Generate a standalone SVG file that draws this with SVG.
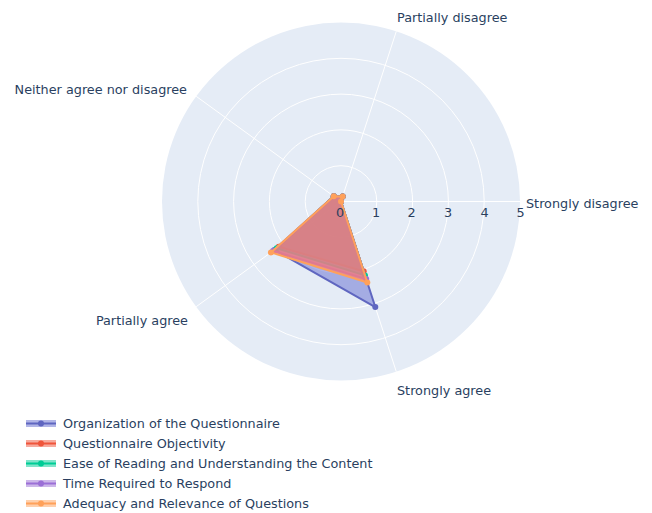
<svg xmlns="http://www.w3.org/2000/svg" width="652" height="513" viewBox="0 0 652 513">
<style>
text{font-family:"DejaVu Sans",Verdana,"Liberation Sans",sans-serif;font-size:12.8px;fill:#2a3f5f}
.grid{fill:none;stroke:#fff;stroke-width:1}
.tr{stroke-width:2;stroke-linejoin:round;fill-opacity:0.5}
.mid{dominant-baseline:central}
</style>
<rect width="652" height="513" fill="#fff"/>
<g id="polar-bg">
<circle cx="341" cy="201.5" r="179" fill="#E5ECF6"/>
<g class="grid">
<circle cx="341" cy="201.5" r="35.8"/>
<circle cx="341" cy="201.5" r="71.6"/>
<circle cx="341" cy="201.5" r="107.4"/>
<circle cx="341" cy="201.5" r="143.2"/>
<line x1="341" y1="201.5" x2="520" y2="201.5"/>
<line x1="341" y1="201.5" x2="396.3" y2="31.3"/>
<line x1="341" y1="201.5" x2="196.2" y2="96.3"/>
<line x1="341" y1="201.5" x2="196.2" y2="306.7"/>
<line x1="341" y1="201.5" x2="396.3" y2="371.7"/>
</g>
</g>
<g id="angular-labels">
<text class="mid" x="526" y="203">Strongly disagree</text>
<text class="mid" x="397" y="17">Partially disagree</text>
<text class="mid" x="187" y="89" text-anchor="end">Neither agree nor disagree</text>
<text class="mid" x="188" y="320" text-anchor="end">Partially agree</text>
<text class="mid" x="397" y="390">Strongly agree</text>
</g>
<g id="traces">
<g id="t-organization" fill="#636bd0" stroke="#5f66c0">
<polygon class="tr" points="341,201.5 342.66,196.39 333.76,196.24 274.4,249.9 375.29,307.05"/>
<g stroke="none" fill="#5f66c0"><circle cx="341" cy="201.5" r="3"/><circle cx="342.66" cy="196.39" r="3"/><circle cx="333.76" cy="196.24" r="3"/><circle cx="274.4" cy="249.9" r="3"/><circle cx="375.29" cy="307.05" r="3"/></g>
</g>
<g id="t-objectivity" fill="#EF553B" stroke="#EF553B">
<polygon class="tr" points="341,201.5 342.66,196.39 333.76,196.24 278.73,246.74 363.68,271.3"/>
<g stroke="none"><circle cx="341" cy="201.5" r="3"/><circle cx="342.66" cy="196.39" r="3"/><circle cx="333.76" cy="196.24" r="3"/><circle cx="278.73" cy="246.74" r="3"/><circle cx="363.68" cy="271.3" r="3"/></g>
</g>
<g id="t-ease" fill="#00cc96" stroke="#00cc96">
<polygon class="tr" points="341,201.5 342.66,196.39 333.76,196.24 276.69,248.23 365,275.4"/>
<g stroke="none"><circle cx="341" cy="201.5" r="3"/><circle cx="342.66" cy="196.39" r="3"/><circle cx="333.76" cy="196.24" r="3"/><circle cx="276.69" cy="248.23" r="3"/><circle cx="365" cy="275.4" r="3"/></g>
</g>
<g id="t-time" fill="#9b6fd6" stroke="#9b6fd6">
<polygon class="tr" points="341,201.5 342.66,196.39 333.76,196.24 272.96,250.93 366.2,279.1"/>
<g stroke="none"><circle cx="341" cy="201.5" r="3"/><circle cx="342.66" cy="196.39" r="3"/><circle cx="333.76" cy="196.24" r="3"/><circle cx="272.96" cy="250.93" r="3"/><circle cx="366.2" cy="279.1" r="3"/></g>
</g>
<g id="t-adequacy" fill="#FFA15A" stroke="#FFA15A">
<polygon class="tr" style="fill:#FC7E74;fill-opacity:0.7" points="341,201.5 342.66,196.39 333.76,196.24 270.94,252.4 367.33,282.53"/>
<g stroke="none"><circle cx="341" cy="201.5" r="3"/><circle cx="342.66" cy="196.39" r="3"/><circle cx="333.76" cy="196.24" r="3"/><circle cx="270.94" cy="252.4" r="3"/><circle cx="367.33" cy="282.53" r="3"/></g>
</g>
</g>
<g id="radial-ticks" text-anchor="middle">
<text x="340" y="217">0</text>
<text x="376" y="217">1</text>
<text x="411.5" y="217">2</text>
<text x="448" y="217">3</text>
<text x="484.5" y="217">4</text>
<text x="520.5" y="217">5</text>
</g>
<g id="legend">
<g id="lg-organization">
<rect x="26" y="420" width="30" height="7" fill="#636bd0" fill-opacity="0.5"/>
<line x1="26" y1="423.5" x2="56" y2="423.5" stroke="#5f66c0" stroke-width="2"/>
<circle cx="41" cy="423.5" r="3" fill="#5f66c0"/>
<text class="mid" x="63" y="423">Organization of the Questionnaire</text>
</g>
<g id="lg-objectivity">
<rect x="26" y="440" width="30" height="7" fill="#EF553B" fill-opacity="0.5"/>
<line x1="26" y1="443.5" x2="56" y2="443.5" stroke="#EF553B" stroke-width="2"/>
<circle cx="41" cy="443.5" r="3" fill="#EF553B"/>
<text class="mid" x="63" y="443">Questionnaire Objectivity</text>
</g>
<g id="lg-ease">
<rect x="26" y="460" width="30" height="7" fill="#00cc96" fill-opacity="0.5"/>
<line x1="26" y1="463.5" x2="56" y2="463.5" stroke="#00cc96" stroke-width="2"/>
<circle cx="41" cy="463.5" r="3" fill="#00cc96"/>
<text class="mid" x="63" y="463">Ease of Reading and Understanding the Content</text>
</g>
<g id="lg-time">
<rect x="26" y="480" width="30" height="7" fill="#9b6fd6" fill-opacity="0.5"/>
<line x1="26" y1="483.5" x2="56" y2="483.5" stroke="#9b6fd6" stroke-width="2"/>
<circle cx="41" cy="483.5" r="3" fill="#9b6fd6"/>
<text class="mid" x="63" y="483">Time Required to Respond</text>
</g>
<g id="lg-adequacy">
<rect x="26" y="500" width="30" height="7" fill="#FFA15A" fill-opacity="0.5"/>
<line x1="26" y1="503.5" x2="56" y2="503.5" stroke="#FFA15A" stroke-width="2"/>
<circle cx="41" cy="503.5" r="3" fill="#FFA15A"/>
<text class="mid" x="63" y="503">Adequacy and Relevance of Questions</text>
</g>
</g>
</svg>
